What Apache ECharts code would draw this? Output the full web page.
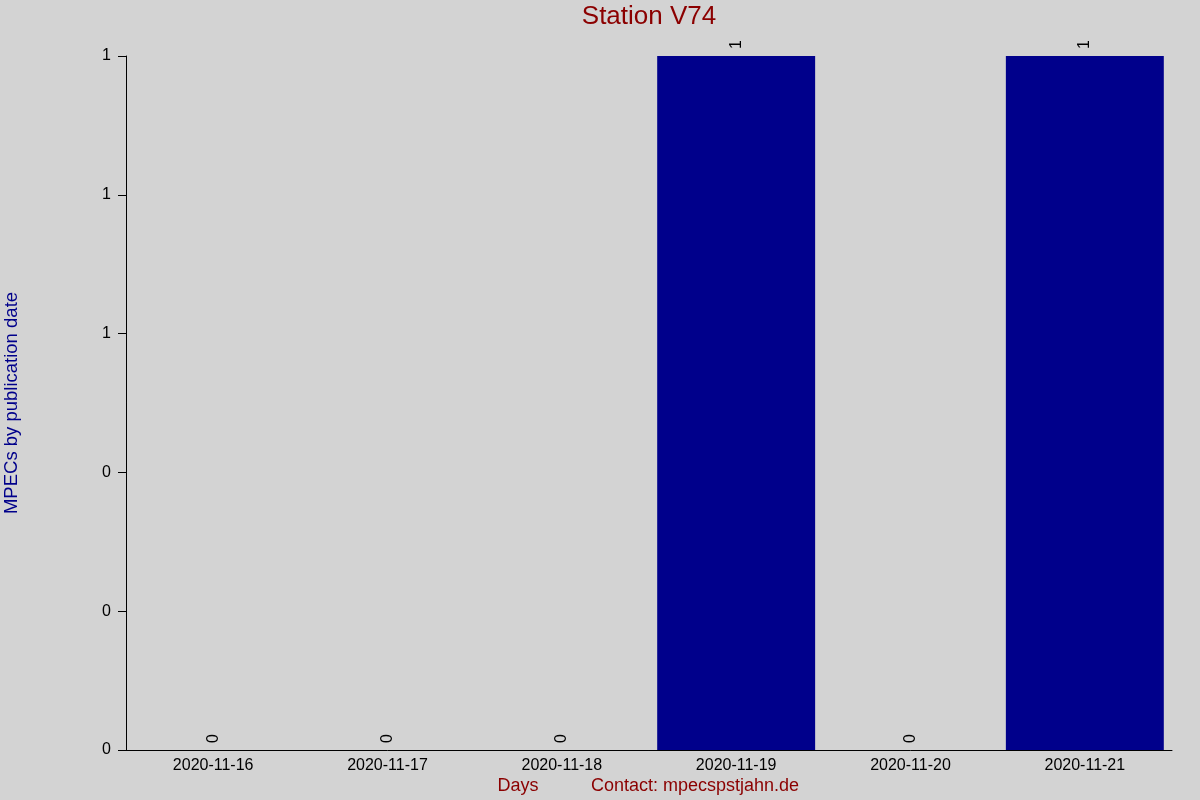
<!DOCTYPE html>
<html>
<head>
<meta charset="utf-8">
<script src="https://cdn.jsdelivr.net/npm/echarts@6/dist/echarts.min.js"></script>
<style>html,body{margin:0;padding:0;background:#d3d3d3;}#c{width:1200px;height:800px;}</style>
</head>
<body>
<div id="c"></div>
<script>
const categories = ['2020-11-16','2020-11-17','2020-11-18','2020-11-19','2020-11-20','2020-11-21'];
const values = [0, 0, 0, 1, 0, 1];
const titleText = 'Station V74';
const xName = 'Days';
const contactText = 'Contact: mpecspstjahn.de';
const yName = 'MPECs by publication date';

const FONT = '"Liberation Sans", Arial, sans-serif';
const chart = echarts.init(document.getElementById('c'));
chart.setOption({
  backgroundColor: '#d3d3d3',
  animation: false,
  grid: { left: 126, right: 28, top: 56, bottom: 50, containLabel: false, outerBoundsMode: 'none' },
  graphic: [
    { type: 'text', style: { text: titleText, x: 649, y: 4, font: '26px ' + FONT, fill: '#8b0000', textAlign: 'center', textVerticalAlign: 'top' } },
    { type: 'text', style: { text: xName, x: 518, y: 786, font: '18px ' + FONT, fill: '#8b0000', textAlign: 'center', textVerticalAlign: 'middle' } },
    { type: 'text', style: { text: contactText, x: 695, y: 786, font: '18px ' + FONT, fill: '#8b0000', textAlign: 'center', textVerticalAlign: 'middle' } }
  ],
  xAxis: {
    type: 'category',
    data: categories,
    axisLine: { show: true, lineStyle: { color: '#000', width: 1 } },
    axisTick: { show: false },
    axisLabel: { color: '#000', fontFamily: FONT, fontSize: 16, margin: 8, interval: 0 },
    splitLine: { show: false }
  },
  yAxis: {
    type: 'value',
    min: 0, max: 1, interval: 0.2,
    name: yName,
    nameLocation: 'middle',
    nameRotate: 90,
    nameGap: 105,
    nameTextStyle: { color: '#00008b', fontFamily: FONT, fontSize: 18.5 },
    axisLine: { show: true, lineStyle: { color: '#000', width: 1 } },
    axisTick: { show: true, length: 8, lineStyle: { color: '#000' } },
    axisLabel: { color: '#000', fontFamily: FONT, fontSize: 16, margin: 15, formatter: v => String(Math.round(v)) },
    splitLine: { show: false }
  },
  series: [{
    type: 'bar',
    data: values,
    barCategoryGap: '9.4%',
    itemStyle: { color: '#00008b' },
    label: {
      show: true, position: 'top', rotate: 90, distance: 7,
      align: 'left', verticalAlign: 'middle',
      color: '#000', fontFamily: FONT, fontSize: 16
    }
  }]
});
</script>
</body>
</html>
